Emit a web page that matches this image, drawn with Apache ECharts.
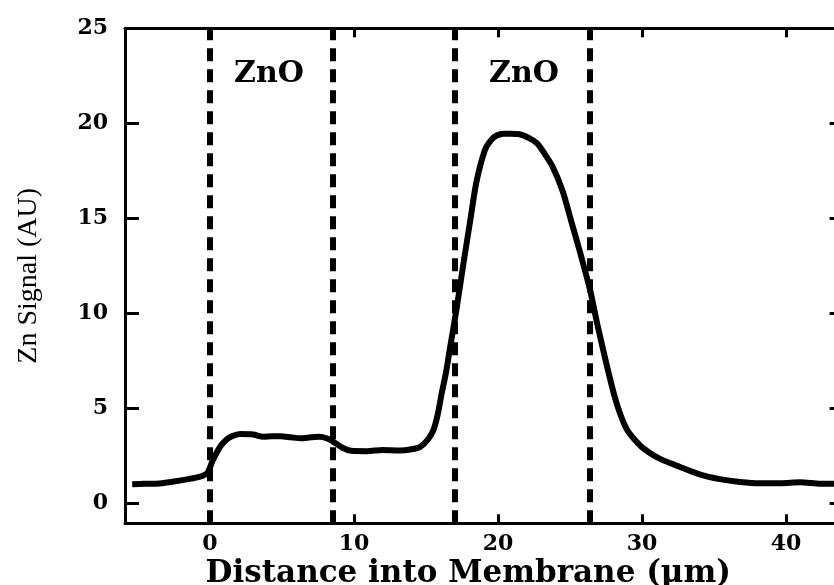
<!DOCTYPE html>
<html>
<head>
<meta charset="utf-8">
<script src="https://cdn.jsdelivr.net/npm/echarts@6/dist/echarts.min.js"></script>
<style>html,body{margin:0;padding:0;background:#fff}#c{width:834px;height:585px}</style>
</head>
<body>
<div id="c"></div>
<script>
var distance = [-5.4,-4.5,-3.5,-2.5,-1.5,-0.7,-0.2,0.2,0.7,1.1,1.5,2.1,3.0,3.7,4.3,4.9,5.6,6.3,7.0,7.6,8.1,8.6,9.2,9.8,10.9,12.0,13.2,14.0,14.6,15.1,15.5,15.8,16.1,16.4,16.7,17.1,17.6,18.1,18.5,19.1,19.5,19.9,20.4,20.8,21.5,22.2,22.7,23.1,23.8,24.5,25.1,25.7,26.4,26.9,27.6,28.1,28.5,29.0,29.9,30.6,31.3,32.6,34.0,35.4,36.8,38.2,39.6,41.0,42.4,44.0];
var znSignal = [0.98,1.0,1.02,1.12,1.25,1.38,1.55,2.25,2.95,3.3,3.5,3.62,3.6,3.48,3.5,3.5,3.45,3.4,3.45,3.48,3.4,3.2,2.9,2.74,2.72,2.78,2.75,2.82,2.95,3.3,3.8,4.6,5.8,6.9,8.3,10.1,12.6,15.0,16.9,18.6,19.1,19.35,19.45,19.45,19.42,19.2,18.95,18.55,17.7,16.4,14.8,13.2,11.2,9.4,7.1,5.6,4.65,3.8,3.0,2.6,2.3,1.9,1.5,1.25,1.1,1.03,1.03,1.08,1.0,1.0];
var boundaries = [0, 8.5, 17.0, 26.4];
var regionLabels = ['ZnO', 'ZnO'];
var regionLabelX = [4.1, 21.8];
var regionLabelY = [22.6, 22.6];
var xTicks = [0, 10, 20, 30, 40];
var yTicks = [0, 5, 10, 15, 20, 25];
var xTitle = 'Distance into Membrane (\u03bcm)';
var yTitle = 'Zn Signal (AU)';

var chart = echarts.init(document.getElementById('c'), null, {renderer: 'canvas'});
var serif = 'DejaVu Serif';
function xAxisBase(pos, showLabel) {
  return {
    type: 'value', position: pos, min: -5.9, max: 44,
    axisLine: {show: true, onZero: false, lineStyle: {color: '#000', width: 3}},
    axisTick: {show: true, inside: true, length: 9, customValues: xTicks, lineStyle: {color: '#000', width: 3}},
    axisLabel: {show: showLabel, customValues: xTicks, margin: 10, color: '#000', fontFamily: serif, fontWeight: 'bold', fontSize: 22},
    splitLine: {show: false}
  };
}
function yAxisBase(pos, showLabel) {
  return {
    type: 'value', position: pos, min: -1.08, max: 25,
    axisLine: {show: true, onZero: false, lineStyle: {color: '#000', width: 3}},
    axisTick: {show: true, inside: true, length: 14, customValues: yTicks, lineStyle: {color: '#000', width: 3}},
    axisLabel: {show: showLabel, customValues: yTicks, margin: 17, color: '#000', fontFamily: serif, fontWeight: 'bold', fontSize: 22},
    splitLine: {show: false}
  };
}
var xb = xAxisBase('bottom', true);
xb.name = xTitle;
xb.nameLocation = 'middle';
xb.nameGap = 35;
xb.nameMoveOverlap = false;
xb.nameTextStyle = {color: '#000', fontFamily: serif, fontWeight: 'bold', fontSize: 31, padding: [0, 32, 0, 0]};
var yl = yAxisBase('left', true);
yl.name = yTitle;
yl.nameLocation = 'middle';
yl.nameGap = 82;
yl.nameMoveOverlap = false;
yl.nameTextStyle = {color: '#000', fontFamily: 'Liberation Serif', fontSize: 28};

var option = {
  animation: false,
  backgroundColor: '#fff',
  grid: {left: 125, top: 28.3, width: 718.6, height: 495, outerBoundsMode: 'none', containLabel: false},
  xAxis: [xb, xAxisBase('top', false)],
  yAxis: [yl, yAxisBase('right', false)],
  series: [
    {
      type: 'line',
      data: distance.map(function (d, i) { return [d, znSignal[i]]; }),
      showSymbol: false,
      smooth: 0.25,
      lineStyle: {color: '#000', width: 6},
      z: 3,
      markLine: {
        silent: true,
        symbol: ['none', 'none'],
        label: {show: false},
        lineStyle: {color: '#000', width: 6, type: [13, 8]},
        data: boundaries.map(function (b) { return {xAxis: b}; })
      }
    },
    {
      type: 'scatter',
      symbolSize: 1,
      itemStyle: {color: 'rgba(0,0,0,0)', opacity: 1},
      data: regionLabelX.map(function (x, i) { return {value: [x, regionLabelY[i]], name: regionLabels[i]}; }),
      label: {show: true, position: 'inside', formatter: '{b}', color: '#000', fontFamily: serif, fontWeight: 'bold', fontSize: 30}
    }
  ]
};
chart.setOption(option);
</script>
</body>
</html>
